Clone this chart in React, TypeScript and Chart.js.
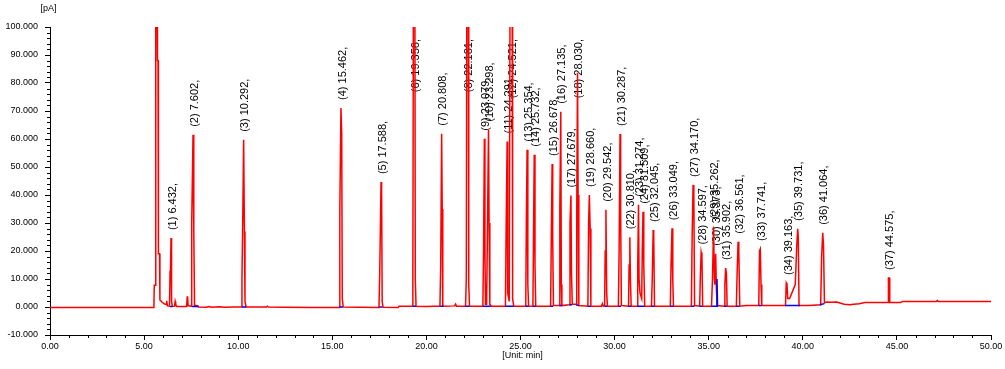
import { useEffect, useRef } from 'react';
import { Chart, registerables } from 'chart.js';

Chart.register(...registerables);

const FONT = '"Liberation Sans", Arial, sans-serif';

const xTickValues = [0, 5, 10, 15, 20, 25, 30, 35, 40, 45, 50];
const yTickValues = [-10, 0, 10, 20, 30, 40, 50, 60, 70, 80, 90, 100];
const yAxisUnit = '[pA]';
const xAxisUnit = '[Unit: min]';

const peakNumbers = [
  1, 2, 3, 4, 5, 6, 7, 8, 9, 10, 11, 12, 13, 14, 15, 16, 17, 18, 19, 20,
  21, 22, 23, 24, 25, 26, 27, 28, 29, 30, 31, 32, 33, 34, 35, 36, 37,
];
const peakTimes = [
  6.432, 7.602, 10.292, 15.462, 17.588, 19.356, 20.808, 22.181, 23.079, 23.298,
  24.291, 24.521, 25.354, 25.732, 26.678, 27.135, 27.679, 28.03, 28.66, 29.542,
  30.287, 30.81, 31.274, 31.509, 32.045, 33.049, 34.17, 34.597, 35.262, 35.373,
  35.902, 36.561, 37.741, 39.163, 39.731, 41.064, 44.575,
];
const peakHeights = [
  24.6, 61.5, 59.7, 71.1, 44.6, 150, 61.9, 150, 60.1, 63.3,
  59.1, 150, 56.2, 54.4, 51.1, 69.7, 39.8, 83.7, 40.0, 34.7,
  61.8, 24.9, 36.5, 34.0, 27.5, 28.1, 43.6, 19.5, 28.7, 19.0,
  13.9, 23.3, 20.7, 8.6, 27.9, 26.5, 10.4,
];

// detector signal (red trace), [time min, signal pA]
const redTrace: [number, number][] = [
  [0, -0.2], [5.52, -0.2], [5.54, 7.8], [5.6, 7.8], [5.62, 100], [5.7, 100], [5.71, 88], [5.74, 88],
  [5.76, 19], [5.82, 19], [5.84, 2.5], [5.95, 1.8], [6.05, 1.2], [6.17, 0.9], [6.2, 2.2], [6.24, 0.4],
  [6.35, 0.3], [6.38, 13], [6.4, 12], [6.43, 24.6], [6.46, 2], [6.5, 0.2], [6.62, 0.3], [6.65, 2],
  [6.68, 1], [6.72, 0.2], [7.26, 0.2], [7.29, 3.5], [7.31, 3.8], [7.34, 0.5], [7.5, 0.3],
  [7.53, 30], [7.6, 61.5], [7.64, 27], [7.68, 0.6], [7.85, 0.4], [7.9, 0],
  [8.3, -0.1], [8.45, 0.2], [8.6, -0.1], [9.0, 0.1], [9.3, -0.1], [9.7, 0], [10.15, 0],
  [10.2, 10], [10.24, 30], [10.29, 59.7], [10.33, 27], [10.36, 2], [10.42, 0],
  [11.5, 0], [11.55, 0.3], [11.6, 0], [12.4, -0.1], [14.0, -0.2], [15.36, -0.2],
  [15.4, 35], [15.46, 71.1], [15.5, 62], [15.53, 3], [15.58, 0],
  [17.48, -0.2], [17.52, 12], [17.59, 44.6], [17.62, 42], [17.65, 2], [17.7, -0.1],
  [18.5, -0.2], [18.55, 0.3], [19.25, 0.3], [19.28, 10], [19.32, 150], [19.38, 150], [19.41, 10], [19.45, 0.3],
  [20.0, 0.2], [20.4, 0.3], [20.72, 0.3], [20.76, 15], [20.81, 61.9], [20.84, 35], [20.87, 0.5], [20.92, 0.3],
  [21.5, 0.4], [21.55, 1], [21.6, 0.3], [22.08, 0.3], [22.12, 10], [22.16, 150], [22.22, 150], [22.25, 8], [22.29, 0.3],
  [23.0, 0.3], [23.04, 22], [23.08, 60.1], [23.11, 20], [23.14, 1], [23.2, 1], [23.24, 25], [23.3, 63.3],
  [23.33, 30], [23.37, 1], [23.45, 0.3],
  [24.2, 0.3], [24.24, 30], [24.29, 59.1], [24.32, 5], [24.4, 2], [24.46, 150], [24.55, 150], [24.58, 3], [24.64, 0.3],
  [25.28, 0.3], [25.31, 30], [25.35, 56.2], [25.39, 8], [25.43, 0.3],
  [25.66, 0.3], [25.69, 25], [25.73, 54.4], [25.77, 15], [25.81, 0.3],
  [26.6, 0.3], [26.63, 20], [26.68, 51.1], [26.71, 25], [26.75, 0.5],
  [27.05, 0.5], [27.09, 35], [27.14, 69.7], [27.17, 8], [27.2, 0.5],
  [27.6, 0.8], [27.63, 30], [27.68, 39.8], [27.71, 12], [27.75, 1],
  [27.96, 1], [27.99, 35], [28.03, 83.7], [28.06, 40], [28.1, 0.5],
  [28.58, 0.3], [28.62, 30], [28.66, 40.0], [28.7, 28], [28.74, 0.3],
  [29.3, 0.3], [29.35, 1.2], [29.4, 0.3],
  [29.47, 0.5], [29.5, 20], [29.54, 34.7], [29.58, 5], [29.62, 0.3],
  [30.2, 0.3], [30.24, 20], [30.29, 61.8], [30.32, 35], [30.36, 0.5],
  [30.74, 0.3], [30.77, 15], [30.81, 24.9], [30.84, 10], [30.88, 0.3],
  [31.2, 0.3], [31.23, 15], [31.27, 36.5], [31.3, 10], [31.35, 5],
  [31.44, 3], [31.47, 20], [31.51, 34.0], [31.55, 15], [31.6, 0.3],
  [31.96, 0.3], [32.0, 10], [32.05, 27.5], [32.08, 25], [32.12, 0.3],
  [32.96, 0.3], [33.0, 15], [33.05, 28.1], [33.09, 10], [33.13, 0.3],
  [34.08, 0.3], [34.12, 25], [34.17, 43.6], [34.21, 40], [34.25, 0.5],
  [34.52, 0.3], [34.56, 12], [34.6, 19.5], [34.64, 18], [34.68, 0.3],
  [35.15, 0.3], [35.2, 10], [35.26, 28.7], [35.3, 10], [35.33, 8], [35.37, 19.0], [35.41, 6], [35.46, 0.5],
  [35.82, 0.3], [35.86, 8], [35.9, 13.9], [35.94, 12], [35.98, 0.3],
  [36.47, 0.3], [36.51, 12], [36.56, 23.3], [36.6, 20], [36.65, 0.3],
  [37.0, 0.5], [37.66, 0.5], [37.7, 20], [37.74, 20.7], [37.78, 8], [37.82, 0.5],
  [39.08, 0.5], [39.12, 8.6], [39.16, 8], [39.2, 3], [39.3, 3], [39.6, 8], [39.68, 22], [39.73, 27.9],
  [39.76, 25], [39.8, 0.5], [40.3, 0.5], [40.95, 0.8], [41.0, 18], [41.06, 26.5], [41.1, 22], [41.15, 1.5],
  [41.3, 1.8], [41.5, 1.7], [41.8, 1.8], [42.2, 1.0], [42.5, 0.8], [42.7, 1.0], [43.0, 1.2], [43.3, 1.6],
  [44.0, 1.6], [44.53, 1.6], [44.55, 10.4], [44.6, 10.4], [44.62, 1.6], [45.2, 1.6], [45.3, 2.0],
  [47.1, 2.0], [47.15, 2.3], [47.2, 2.0], [50, 2.0],
];

// integration baselines and the blue signal (blue trace), null = gap
const blueTrace: ([number, number] | null)[] = [
  [6.38, 0.2], [6.5, 0.2], null, [7.55, 0.2], [7.9, 0.2], null, [10.2, 0], [10.42, 0], null,
  [15.38, 0], [15.56, 0], null, [17.5, 0], [17.66, 0], null, [19.28, 0.3], [19.44, 0.3], null,
  [20.74, 0.3], [20.9, 0.3], null, [22.08, 0.3], [22.28, 0.3], null, [23.0, 0.3], [23.42, 0.3], null,
  [24.2, 0.3], [24.62, 0.3], null, [25.28, 0.3], [25.42, 0.3], null, [25.66, 0.3], [25.8, 0.3], null,
  [26.6, 0.3], [26.74, 0.3], null, [27.06, 0.5], [27.2, 0.5], null, [27.6, 0.8], [27.74, 0.8], null,
  [27.96, 0.8], [28.1, 0.5], null, [28.58, 0.3], [28.72, 0.3], null, [29.46, 0.3], [29.6, 0.3], null,
  [30.2, 0.3], [30.34, 0.3], null, [30.74, 0.3], [30.88, 0.3], null, [31.2, 0.3], [31.58, 0.3], null,
  [31.96, 0.3], [32.1, 0.3], null, [32.96, 0.3], [33.12, 0.3], null, [34.08, 0.3], [34.24, 0.3], null,
  [34.52, 0.3], [34.66, 0.3], null, [35.15, 0.3], [35.4, 0.3], [35.44, 10], [35.47, 0.3], [35.5, 0.3], null,
  [35.82, 0.3], [35.96, 0.3], null, [36.48, 0.3], [36.62, 0.3], null, [37.66, 0.5], [37.8, 0.5], null,
  [39.05, 0.5], [39.25, 0.5], [39.85, 0.5], null, [40.9, 0.8], [41.15, 1.2], null, [44.5, 1.6], [44.62, 1.6],
];

export default function App() {
  const ref = useRef<HTMLCanvasElement>(null);

  useEffect(() => {
    const canvas = ref.current;
    if (!canvas) return;

    const overlay = {
      id: 'chromOverlay',
      beforeDatasetsDraw(chart: any) {
        const { ctx, chartArea, scales } = chart;
        const xs = scales.x;
        const ys = scales.y;
        ctx.save();
        ctx.font = `11px ${FONT}`;
        ctx.fillStyle = '#000';
        ctx.textAlign = 'left';
        ctx.textBaseline = 'middle';
        peakTimes.forEach((t, i) => {
          const text = `(${peakNumbers[i]}) ${t.toFixed(3)},`;
          const w = ctx.measureText(text).width;
          const px = xs.getPixelForValue(t) + 1.5;
          const apex = Math.max(ys.getPixelForValue(peakHeights[i]), chartArea.top);
          const anchor = Math.max(apex - 8, chartArea.top + 12 + w);
          ctx.save();
          ctx.translate(px, anchor);
          ctx.rotate(-Math.PI / 2);
          ctx.fillText(text, 0, 0);
          ctx.restore();
        });
        ctx.restore();
      },
      afterDraw(chart: any) {
        const { ctx, chartArea, scales } = chart;
        const xs = scales.x;
        const ys = scales.y;
        ctx.save();
        ctx.strokeStyle = '#000';
        ctx.lineWidth = 1;
        ctx.beginPath();
        for (let m = 0; m <= 50; m += 1) {
          if (m % 5 === 0) continue;
          const x = Math.round(xs.getPixelForValue(m)) + 0.5;
          ctx.moveTo(x, Math.round(chartArea.bottom));
          ctx.lineTo(x, Math.round(chartArea.bottom) + 3);
        }
        for (let v = -10; v <= 100; v += 2) {
          if (v % 10 === 0) continue;
          const y = Math.round(ys.getPixelForValue(v)) + 0.5;
          ctx.moveTo(Math.round(chartArea.left) - 3, y);
          ctx.lineTo(Math.round(chartArea.left), y);
        }
        ctx.stroke();
        ctx.fillStyle = '#000';
        ctx.font = `9px ${FONT}`;
        ctx.textAlign = 'center';
        ctx.textBaseline = 'middle';
        ctx.fillText(yAxisUnit, 48.5, 9);
        ctx.fillText(xAxisUnit, (chartArea.left + chartArea.right) / 2 + 2, 356);
        ctx.restore();
      },
    };

    const chart = new Chart(canvas, {
      type: 'line',
      data: {
        datasets: [
          {
            label: 'baseline',
            data: blueTrace.map((p) => (p ? { x: p[0], y: p[1] } : { x: NaN, y: null })) as any,
            borderColor: '#0000ff',
            borderWidth: 1.5,
            pointRadius: 0,
            tension: 0,
            spanGaps: false,
          },
          {
            label: 'signal',
            data: redTrace.map((p) => ({ x: p[0], y: p[1] })),
            borderColor: '#ff0000',
            borderWidth: 1.5,
            pointRadius: 0,
            tension: 0,
          },
        ],
      },
      options: {
        animation: false,
        responsive: false,
        devicePixelRatio: 1,
        parsing: false,
        normalized: true,
        events: [],
        layout: { padding: { top: 27, right: 14, left: 0, bottom: 0 } },
        plugins: { legend: { display: false }, tooltip: { enabled: false }, title: { display: false } },
        scales: {
          x: {
            type: 'linear',
            min: 0,
            max: 50,
            afterBuildTicks: (scale: any) => {
              scale.ticks = xTickValues.map((v) => ({ value: v }));
            },
            afterFit: (scale: any) => {
              scale.height = 34;
            },
            grid: { drawOnChartArea: false, drawTicks: true, tickLength: 5, tickColor: '#000', lineWidth: 1 },
            border: { display: true, color: '#000', width: 1 },
            ticks: {
              autoSkip: false,
              maxRotation: 0,
              padding: 1,
              color: '#000',
              font: { family: FONT, size: 9 },
              callback: (v: any) => Number(v).toFixed(2),
            },
          },
          y: {
            type: 'linear',
            min: -10,
            max: 100,
            afterBuildTicks: (scale: any) => {
              scale.ticks = yTickValues.map((v) => ({ value: v }));
            },
            afterFit: (scale: any) => {
              scale.width = 50;
            },
            grid: { drawOnChartArea: false, drawTicks: true, tickLength: 5, tickColor: '#000', lineWidth: 1 },
            border: { display: true, color: '#000', width: 1 },
            ticks: {
              autoSkip: false,
              padding: 7,
              color: '#000',
              font: { family: FONT, size: 9 },
              callback: (v: any) => Number(v).toFixed(3),
            },
          },
        },
      },
      plugins: [overlay],
    });

    return () => {
      chart.destroy();
    };
  }, []);

  return (
    <div style={{ position: 'absolute', left: 0, top: 0, width: 1005, height: 369, background: '#fff' }}>
      <canvas ref={ref} width={1005} height={369} style={{ display: 'block', width: 1005, height: 369 }} />
    </div>
  );
}
